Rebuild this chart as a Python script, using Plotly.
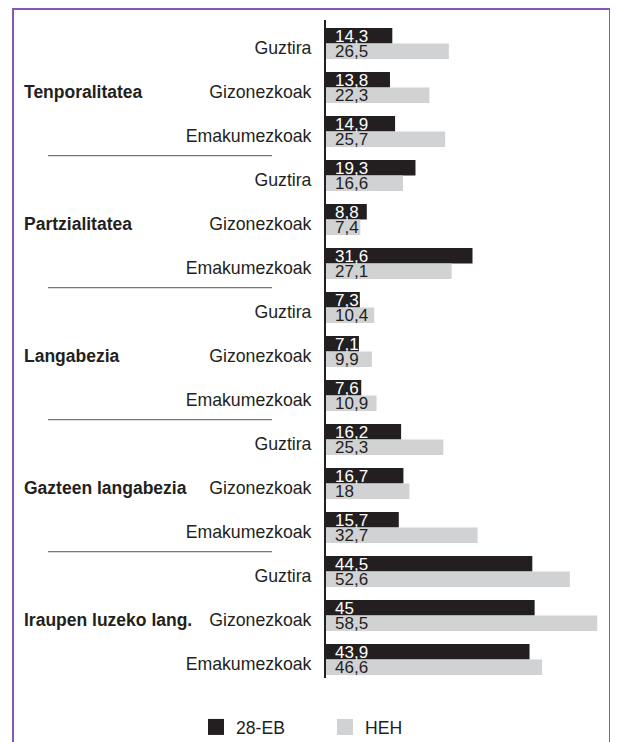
import plotly.graph_objects as go

groups = ["Tenporalitatea", "Partzialitatea", "Langabezia", "Gazteen langabezia", "Iraupen luzeko lang."]
subgroups = ["Guztira", "Gizonezkoak", "Emakumezkoak"]
eb28 = [14.3, 13.8, 14.9, 19.3, 8.8, 31.6, 7.3, 7.1, 7.6, 16.2, 16.7, 15.7, 44.5, 45, 43.9]
heh = [26.5, 22.3, 25.7, 16.6, 7.4, 27.1, 10.4, 9.9, 10.9, 25.3, 18, 32.7, 52.6, 58.5, 46.6]
series_names = ["28-EB", "HEH"]

labels = [s for g in groups for s in subgroups]
idx = list(range(len(labels)))

BLACK = "#231f20"
GRAY = "#d1d2d4"
FONT = "Liberation Sans, Arial, Helvetica, sans-serif"

def fmt(v):
    return f"{v:g}".replace(".", ",")

# page body margin offset (8px)
OFF = 8
W, H = 618 - OFF, 742 - OFF
L, R, T, B = 326 - OFF, 18, 20 - OFF, 64
pw, ph = W - L - R, H - T - B

def px_x(p):  # page pixel -> paper x
    return (p - OFF - L) / pw

def px_y(p):  # page pixel -> paper y
    return (H - B - (p - OFF)) / ph

fig = go.Figure()
fig.add_trace(go.Bar(x=eb28, y=idx, orientation="h", offset=-0.45, width=0.35,
                     marker=dict(color=BLACK, line=dict(width=0)), showlegend=False,
                     hoverinfo="x"))
fig.add_trace(go.Bar(x=heh, y=idx, orientation="h", offset=-0.1, width=0.35,
                     marker=dict(color=GRAY, line=dict(width=0)), showlegend=False,
                     hoverinfo="x"))
# legend entries
fig.add_trace(go.Scatter(x=[None], y=[None], mode="markers", name=series_names[0],
                         marker=dict(symbol="square", size=18, color=BLACK)))
fig.add_trace(go.Scatter(x=[None], y=[None], mode="markers", name=series_names[1],
                         marker=dict(symbol="square", size=18, color=GRAY)))

annotations = []
for i, (a, b) in enumerate(zip(eb28, heh)):
    annotations.append(dict(x=0, y=i - 0.255, xref="x", yref="y", text=fmt(a), showarrow=False,
                            xanchor="left", yanchor="middle", xshift=8, borderpad=0,
                            font=dict(family=FONT, size=17, color="white")))
    annotations.append(dict(x=0, y=i + 0.085, xref="x", yref="y", text=fmt(b), showarrow=False,
                            xanchor="left", yanchor="middle", xshift=8, borderpad=0,
                            font=dict(family=FONT, size=17, color=BLACK)))

for gi, g in enumerate(groups):
    annotations.append(dict(x=px_x(22), y=gi * 3 + 1, xref="paper", yref="y", text="<b>" + g + "</b>",
                            showarrow=False, xanchor="left", yanchor="middle",
                            font=dict(family=FONT, size=17.5, color=BLACK)))

shapes = []
for gi in range(1, len(groups)):
    yy = gi * 3 - 0.55
    shapes.append(dict(type="line", xref="paper", yref="y", x0=px_x(48), x1=px_x(272), y0=yy, y1=yy,
                       line=dict(color="#555555", width=1)))

# frame
shapes.append(dict(type="path", xref="paper", yref="paper",
                   path=f"M {px_x(13)} {px_y(760)} L {px_x(13)} {px_y(9)} L {px_x(610)} {px_y(9)} L {px_x(610)} {px_y(760)}",
                   line=dict(color="#8b55b3", width=2)))

fig.update_layout(
    width=W, height=H,
    margin=dict(l=L, r=R, t=T, b=B, pad=0, autoexpand=False),
    paper_bgcolor="white", plot_bgcolor="white",
    barmode="overlay",
    font=dict(family=FONT, size=17, color=BLACK),
    xaxis=dict(range=[0, 59.1], visible=False, fixedrange=True),
    yaxis=dict(range=[14.32, -0.634], tickmode="array", tickvals=idx, ticktext=labels,
               showline=True, linecolor=BLACK, linewidth=2, showgrid=False, zeroline=False,
               ticks="", ticklabelstandoff=9, tickfont=dict(family=FONT, size=17.7, color=BLACK)),
    legend=dict(orientation="h", x=px_x(196), xanchor="left", y=px_y(727), yanchor="middle",
                entrywidth=84, entrywidthmode="pixels", font=dict(family=FONT, size=17.6, color=BLACK),
                itemclick=False, itemdoubleclick=False),
    annotations=annotations,
    shapes=shapes,
    showlegend=True,
)

fig.write_html("out.html")
